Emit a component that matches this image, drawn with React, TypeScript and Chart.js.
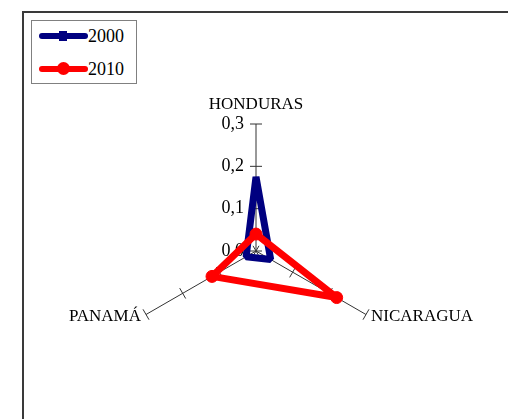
import React, { useEffect, useRef } from "react";
import { Chart, registerables } from "chart.js";

Chart.register(...registerables);

const categories = ["HONDURAS", "NICARAGUA", "PANAMÁ"];
const seriesNames = ["2000", "2010"];
const values2000 = [0.175, 0.04, 0.027];
const values2010 = [0.04, 0.22, 0.12];
const seriesColors = ["#000080", "#FF0000"];
const axisMin = 0;
const axisMax = 0.3;
const axisStep = 0.1;

const FONT = "'Liberation Serif', 'Times New Roman', serif";

const radarDecor = {
  id: "radarDecor",
  beforeDatasetsDraw(chart: any) {
    const scale = chart.scales.r;
    const ctx = chart.ctx as CanvasRenderingContext2D;
    const n = chart.data.labels.length;
    ctx.save();
    // cross tick marks on every axis
    ctx.strokeStyle = "#333333";
    ctx.lineWidth = 1;
    for (let i = 0; i < n; i++) {
      const a = scale.getIndexAngle(i) - Math.PI / 2;
      const px = -Math.sin(a);
      const py = Math.cos(a);
      for (const t of scale.ticks) {
        const d = scale.getDistanceFromCenterForValue(t.value);
        const p = scale.getPointPosition(i, d);
        ctx.beginPath();
        ctx.moveTo(p.x - px * 6, p.y - py * 6);
        ctx.lineTo(p.x + px * 6, p.y + py * 6);
        ctx.stroke();
      }
    }
    // tick labels, left of the first axis
    ctx.font = `18px ${FONT}`;
    ctx.fillStyle = "#000000";
    ctx.textAlign = "right";
    ctx.textBaseline = "middle";
    for (const t of scale.ticks) {
      const p = scale.getPointPosition(0, scale.getDistanceFromCenterForValue(t.value));
      ctx.fillText(t.label, p.x - 12, p.y);
    }
    // category labels
    ctx.font = `17px ${FONT}`;
    for (let i = 0; i < n; i++) {
      const label = chart.data.labels[i];
      const p = scale.getPointPosition(i, scale.drawingArea);
      const s = Math.sin(scale.getIndexAngle(i));
      if (Math.abs(s) < 0.01) {
        ctx.textAlign = "center";
        ctx.fillText(label, p.x, p.y - 19);
      } else if (s > 0) {
        ctx.textAlign = "left";
        ctx.fillText(label, p.x + 5, p.y + 2);
      } else {
        ctx.textAlign = "right";
        ctx.fillText(label, p.x - 5, p.y + 2);
      }
    }
    ctx.restore();
  },
};

export default function App() {
  const ref = useRef<HTMLCanvasElement | null>(null);

  useEffect(() => {
    if (!ref.current) return;
    const chart = new Chart(ref.current, {
      type: "radar",
      data: {
        labels: categories,
        datasets: [
          {
            label: seriesNames[0],
            data: values2000,
            borderColor: seriesColors[0],
            backgroundColor: seriesColors[0],
            borderWidth: 7,
            borderJoinStyle: "bevel",
            fill: false,
            pointRadius: 0,
            order: 1,
          },
          {
            label: seriesNames[1],
            data: values2010,
            borderColor: seriesColors[1],
            backgroundColor: seriesColors[1],
            borderWidth: 7,
            borderJoinStyle: "round",
            fill: false,
            pointRadius: 6,
            pointBorderWidth: 1,
            pointBackgroundColor: seriesColors[1],
            pointBorderColor: seriesColors[1],
            order: 0,
          },
        ],
      },
      options: {
        animation: false,
        responsive: false,
        devicePixelRatio: 1,
        layout: { padding: { left: 129, right: 125, top: 124, bottom: 41 } },
        plugins: { legend: { display: false }, tooltip: { enabled: false } },
        scales: {
          r: {
            min: axisMin,
            max: axisMax,
            ticks: {
              display: false,
              stepSize: axisStep,
              callback: (v: any) => Number(v).toFixed(1).replace(".", ","),
            },
            grid: { display: false },
            angleLines: { display: true, color: "#333333", lineWidth: 1 },
            pointLabels: { display: false },
          },
        },
      } as any,
      plugins: [radarDecor],
    });
    return () => chart.destroy();
  }, []);

  const legendItems = seriesNames.map((name, i) => ({ name, color: seriesColors[i] }));

  return (
    <div
      style={{
        position: "fixed",
        left: 0,
        top: 0,
        width: 508,
        height: 419,
        overflow: "hidden",
        background: "#ffffff",
      }}
    >
      <canvas ref={ref} width={508} height={419} style={{ position: "absolute", left: 0, top: 0, width: 508, height: 419 }} />
      <div
        style={{
          position: "absolute",
          left: 22,
          top: 11,
          width: 600,
          height: 600,
          borderLeft: "2px solid #3a3a3a",
          borderTop: "2px solid #3a3a3a",
          pointerEvents: "none",
        }}
      />
      <div
        style={{
          position: "absolute",
          left: 31,
          top: 20,
          width: 104,
          height: 62,
          border: "1px solid #808080",
          background: "#ffffff",
          fontFamily: FONT,
          fontSize: 18,
          color: "#000",
        }}
      >
        {legendItems.map((it, i) => (
          <div key={it.name} style={{ position: "absolute", left: 0, top: 4 + i * 33, width: 104, height: 22 }}>
            <div
              style={{
                position: "absolute",
                left: 7,
                top: 8,
                width: 49,
                height: 6,
                borderRadius: 3,
                background: it.color,
              }}
            />
            {i === 0 ? (
              <div style={{ position: "absolute", left: 27, top: 6, width: 8, height: 10, background: it.color }} />
            ) : (
              <div
                style={{
                  position: "absolute",
                  left: 25,
                  top: 4,
                  width: 13,
                  height: 13,
                  borderRadius: 7,
                  background: it.color,
                }}
              />
            )}
            <div style={{ position: "absolute", left: 56, top: 0, lineHeight: "22px" }}>{it.name}</div>
          </div>
        ))}
      </div>
    </div>
  );
}
